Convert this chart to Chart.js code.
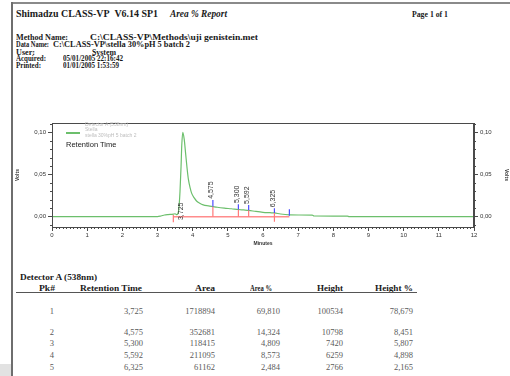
<!DOCTYPE html>
<html>
<head>
<meta charset="utf-8">
<script src="https://cdn.jsdelivr.net/npm/chart.js@4"></script>
<style>
  body { margin: 0; width: 510px; height: 376px; background: #fff; overflow: hidden; position: relative;
         font-family: "Liberation Serif", "Times New Roman", serif; color: #1a1a1a; }
  .t { position: absolute; white-space: nowrap; line-height: 12px; height: 12px; transform-origin: 0 50%; }
  .b { font-weight: bold; }
  .h { font-weight: bold; font-size: 9px; }
  .s { font-family: "Liberation Sans", Arial, sans-serif; }
  #chartBox { position: absolute; left: 0; top: 110px; width: 510px; height: 140px; }
  .leg { position: absolute; font-family: "Liberation Sans", Arial, sans-serif; font-size: 5px; color: #bdbdbd;
         line-height: 6px; white-space: nowrap; }
</style>
</head>
<body>

<!-- page frame -->
<div style="position:absolute;left:12px;top:2px;width:498px;height:1.5px;background:#8a8a8a"></div>
<div style="position:absolute;left:11px;top:2px;width:1.5px;height:374px;background:#6e6e6e"></div>
<div style="position:absolute;left:0;top:364px;width:11px;height:12px;background:#e2e2e2"></div>

<!-- report header: data-l / data-r = span the text is fitted to -->
<div class="t b" data-l="16" data-r="158" style="top:8px;font-size:10.5px">Shimadzu CLASS-VP&nbsp; V6.14 SP1</div>
<div class="t b" data-l="170" data-r="227" style="top:8px;font-size:9.5px;font-style:italic">Area % Report</div>
<div class="t b" data-l="412" data-r="448" style="top:8px;font-size:9px">Page 1 of 1</div>

<div class="t h" data-l="16" data-r="68" style="top:30.7px">Method Name:</div>
<div class="t h" data-l="90" data-r="258" style="top:30.7px">C:\CLASS-VP\Methods\uji genistein.met</div>
<div class="t h" data-l="16" data-r="49" style="top:38.3px">Data Name:</div>
<div class="t h" data-l="53" data-r="190" style="top:38.3px">C:\CLASS-VP\stella 30%pH 5 batch 2</div>
<div class="t h" data-l="16" data-r="35" style="top:45.7px">User:</div>
<div class="t h" data-l="92" data-r="116" style="top:45.7px">System</div>
<div class="t h" data-l="16" data-r="46" style="top:52.3px">Acquired:</div>
<div class="t h" data-l="63" data-r="123" style="top:52.3px">05/01/2005 22:16:42</div>
<div class="t h" data-l="16" data-r="41" style="top:59.3px">Printed:</div>
<div class="t h" data-l="63" data-r="119" style="top:59.3px">01/01/2005 1:53:59</div>

<div id="chartBox"><canvas id="chroma" width="510" height="140"></canvas></div>

<!-- in-plot legend -->
<div style="position:absolute;left:66px;top:132px;width:14px;height:1.5px;background:#6cbf6c"></div>
<div class="leg" style="left:85px;top:121px">Detector A (538nm)</div>
<div class="leg" style="left:85px;top:126px">Stella</div>
<div class="leg" style="left:85px;top:131.5px">stella 30%pH 5 batch 2</div>
<div class="t s" style="left:66px;top:139px;font-size:7.5px;color:#222">Retention Time</div>

<!-- results table -->
<div id="table"></div>

<script>
// chromatogram trace (minutes / volts)
const traceTime = [0, 1, 2, 3.0, 3.1, 3.2, 3.3, 3.45, 3.5, 3.55, 3.6, 3.64, 3.67, 3.69, 3.72,
  3.76, 3.8, 3.84, 3.88, 3.93, 3.97, 4.05, 4.11, 4.2, 4.3, 4.45, 4.575, 4.7, 4.9, 5.1, 5.3, 5.45, 5.592,
  5.8, 6.0, 6.2, 6.325, 6.5, 6.75, 7.0, 7.4, 7.45, 8.4, 8.45, 12];
const traceVolts = [0, 0, 0, 0, 0.0008, 0.002, 0.0025, 0.003, 0.0035, 0.0025, 0.007, 0.03, 0.06, 0.085, 0.1005,
  0.092, 0.075, 0.058, 0.044, 0.034, 0.028, 0.022, 0.0187, 0.016, 0.014, 0.0128, 0.012, 0.0112, 0.0102, 0.0094, 0.0085, 0.008, 0.0075,
  0.0062, 0.0052, 0.0047, 0.0044, 0.0032, 0.0022, 0.002, 0.0019, 0.0008, 0.0007, 0, 0];

// integration baseline and peak marks
const baseTime = [3.45, 6.75];
const baseVolts = [0, 0];
const dropTime = [3.45, 4.575, 5.300, 5.592, 6.325];
const dropLow = [-0.0065, 0, 0, 0, -0.006];
const dropHigh = [0.002, 0.012, 0.0085, 0.0075, 0.0044];
const markTime = [4.575, 5.300, 5.592, 6.325, 6.750];
const markLow = [0.012, 0.0085, 0.0075, 0.0044, 0.0012];
const markHigh = [0.0199, 0.0148, 0.0139, 0.0100, 0.0088];
const labelBase = [-0.004, 0.0212, 0.0162, 0.0152, 0.0112];

// peak table
const peakNo = [1, 2, 3, 4, 5];
const retTime = [3.725, 4.575, 5.300, 5.592, 6.325];
const area = [1718894, 352681, 118415, 211095, 61162];
const areaPct = [69.810, 14.324, 4.809, 8.573, 2.484];
const height = [100534, 10798, 7420, 6259, 2766];
const heightPct = [78.679, 8.451, 5.807, 4.898, 2.165];

// axes
const xTicks = [0, 1, 2, 3, 4, 5, 6, 7, 8, 9, 10, 11, 12];
const yTicks = [0, 0.05, 0.10];

const comma = (v, d) => v.toFixed(d).replace(".", ",");

// ---- table ----
const tbl = document.getElementById("table");
function txt(l, r, cy, s, style) {
  const d = document.createElement("div");
  d.className = "t";
  d.style.cssText = `top:${cy - 6}px;font-size:8.5px;` + style;
  if (l !== null) { d.dataset.l = l; d.dataset.r = r; }
  else d.style.right = (510 - r) + "px";
  d.textContent = s;
  tbl.appendChild(d);
}
const hb = "font-weight:bold;";
txt(20, 97, 277, "Detector A (538nm)", hb);
txt(39, 55, 288, "Pk#", hb);
txt(80, 142, 288, "Retention Time", hb);
txt(195, 215, 288, "Area", hb);
txt(250, 272, 288, "Area %", hb);
txt(317, 343, 288, "Height", hb);
txt(375, 413, 288, "Height %", hb);
const rule = document.createElement("div");
rule.style.cssText = "position:absolute;left:16px;top:292px;width:401px;height:1px;background:#555";
tbl.appendChild(rule);

const rowY = [311, 331.5, 343.3, 355, 366.5];
peakNo.forEach((p, i) => {
  const g = "color:#5a5a5a;";
  txt(null, 54, rowY[i], String(p), g);
  txt(null, 143, rowY[i], comma(retTime[i], 3), g);
  txt(null, 215, rowY[i], String(area[i]), g);
  txt(null, 280, rowY[i], comma(areaPct[i], 3), g);
  txt(null, 343, rowY[i], String(height[i]), g);
  txt(null, 413, rowY[i], comma(heightPct[i], 3), g);
});

// squeeze/stretch text to the span it has in the printout
document.querySelectorAll("[data-l]").forEach(el => {
  const l = +el.dataset.l, r = +el.dataset.r;
  el.style.left = l + "px";
  const w = el.getBoundingClientRect().width;
  if (w > 0) el.style.transform = `scaleX(${(r - l) / w})`;
});

// ---- chart ----
const zip = (xs, ys) => xs.map((x, i) => ({ x: x, y: ys[i] }));
function segments(ts, lo, hi) {
  const out = [];
  ts.forEach((t, i) => out.push({ x: t, y: lo[i] }, { x: t, y: hi[i] }, { x: t, y: null }));
  return out;
}

const axisColor = "#4a4a4a";
const tickFont = { family: "Liberation Sans", size: 6 };
const titleFont = { family: "Liberation Sans", size: 5, weight: "bold" };

// frame top + minor ticks
const framePlugin = {
  id: "frame",
  afterDraw(chart) {
    const { ctx, chartArea: a, scales } = chart;
    ctx.save();
    ctx.strokeStyle = axisColor;
    ctx.lineWidth = 1;
    ctx.strokeRect(a.left + 0.5, a.top + 0.5, a.right - a.left - 1, a.bottom - a.top);
    ctx.beginPath();
    for (let i = 0; i <= 120; i++) {
      if (i % 10 === 0) continue;
      const px = Math.round(scales.x.getPixelForValue(i / 10)) + 0.5;
      ctx.moveTo(px, a.bottom); ctx.lineTo(px, a.bottom + 2);
    }
    for (let i = -1; i <= 11; i++) {
      if (i % 5 === 0) continue;
      const py = Math.round(scales.y.getPixelForValue(i / 100)) + 0.5;
      ctx.moveTo(a.left - 2, py); ctx.lineTo(a.left, py);
      ctx.moveTo(a.right, py); ctx.lineTo(a.right + 2, py);
    }
    ctx.stroke();
    ctx.restore();
  }
};

// rotated retention-time labels
const peakLabels = {
  id: "peakLabels",
  afterDatasetsDraw(chart) {
    const { ctx, scales } = chart;
    ctx.save();
    ctx.font = "7px 'Liberation Sans'";
    ctx.fillStyle = "#333";
    ctx.textAlign = "left";
    ctx.textBaseline = "middle";
    retTime.forEach((t, i) => {
      const px = scales.x.getPixelForValue(t) - 1.5;
      const py = scales.y.getPixelForValue(labelBase[i]);
      ctx.save();
      ctx.translate(px, py);
      ctx.rotate(-Math.PI / 2);
      ctx.fillText(comma(t, 3), 0, 0);
      ctx.restore();
    });
    ctx.restore();
  }
};

const yScale = (pos, width, titlePad) => ({
  type: "linear",
  position: pos,
  min: -0.0123,
  max: 0.1115,
  afterBuildTicks: s => { s.ticks = yTicks.map(v => ({ value: v })); },
  afterFit: s => { s.width = width; },
  grid: { drawOnChartArea: false, tickLength: 4, color: axisColor },
  border: { color: axisColor },
  ticks: { font: tickFont, color: "#333", padding: 2, callback: v => comma(v, 2) },
  title: { display: true, text: "Volts", font: titleFont, color: "#333", padding: { top: titlePad, bottom: 0 } }
});

new Chart(document.getElementById("chroma"), {
  type: "line",
  data: {
    datasets: [
      {
        data: segments(markTime, markLow, markHigh),
        borderColor: "#4d4dff", borderWidth: 1.2, pointRadius: 0, spanGaps: false, order: 1
      },
      {
        data: segments(dropTime, dropLow, dropHigh),
        borderColor: "#ff7a7a", borderWidth: 1.2, pointRadius: 0, spanGaps: false, order: 2
      },
      {
        data: zip(baseTime, baseVolts),
        borderColor: "#ff8c8c", borderWidth: 1.5, pointRadius: 0, order: 2
      },
      {
        data: zip(traceTime, traceVolts),
        borderColor: "#6cbf6c", borderWidth: 1.2, pointRadius: 0,
        cubicInterpolationMode: "monotone", order: 3
      }
    ]
  },
  options: {
    responsive: false,
    animation: false,
    devicePixelRatio: 1,
    layout: { padding: { top: 13, left: 0, right: 0, bottom: 0 } },
    plugins: { legend: { display: false }, tooltip: { enabled: false } },
    scales: {
      x: {
        type: "linear",
        min: 0,
        max: 12,
        afterBuildTicks: s => { s.ticks = xTicks.map(v => ({ value: v })); },
        afterFit: s => { s.height = 23; },
        grid: { drawOnChartArea: false, tickLength: 4, color: axisColor },
        border: { color: axisColor },
        ticks: { font: tickFont, color: "#333", padding: 1, maxRotation: 0, autoSkip: false },
        title: { display: true, text: "Minutes", font: titleFont, color: "#333", padding: { top: 0, bottom: 3 } }
      },
      y: yScale("left", 52, 15),
      y2: yScale("right", 36, 1)
    }
  },
  plugins: [framePlugin, peakLabels]
});
</script>
</body>
</html>
